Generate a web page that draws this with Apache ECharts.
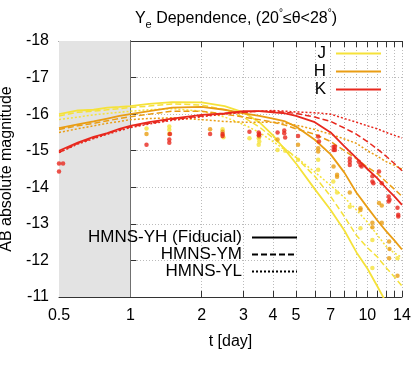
<!DOCTYPE html>
<html>
<head>
<meta charset="utf-8">
<script src="https://cdn.jsdelivr.net/npm/echarts@6/dist/echarts.min.js"></script>
<style>
  html, body { margin: 0; padding: 0; background: #fff; }
  #chart { width: 416px; height: 365px; }
</style>
</head>
<body>
<div id="chart"></div>
<script>
// time grid (days) shared by all model curves
const tGrid = [0.5, 0.6, 0.7, 0.8, 0.9, 1, 1.2, 1.5, 2, 2.5, 3, 3.5, 4, 4.5, 5, 6, 7, 8, 9, 10, 11, 12, 13, 14]

// J band
const jYH = [-16.00, -16.10, -16.12, -16.18, -16.20, -16.22, -16.28, -16.33, -16.32, -16.22, -16.05, -15.78, -15.42, -15.02, -14.65, -13.95, -13.38, -12.82, -12.22, -11.78, -11.30, -10.85, -10.50, -10.20]
const jYM = [-15.95, -16.05, -16.08, -16.12, -16.15, -16.18, -16.22, -16.28, -16.25, -16.12, -15.92, -15.65, -15.35, -15.05, -14.82, -14.30, -13.75, -13.20, -12.68, -12.35, -12.10, -11.80, -11.55, -11.30]
const jYL = [-15.85, -15.92, -15.98, -16.02, -16.05, -16.08, -16.12, -16.15, -16.08, -15.92, -15.72, -15.50, -15.25, -15.02, -14.82, -14.42, -14.05, -13.72, -13.38, -13.05, -12.70, -12.38, -12.20, -12.08]
// H band
const hYH = [-15.62, -15.72, -15.80, -15.88, -15.95, -16.00, -16.08, -16.18, -16.20, -16.12, -16.02, -15.95, -15.88, -15.80, -15.66, -15.30, -14.90, -14.40, -13.85, -13.45, -13.10, -12.80, -12.55, -12.30]
const hYM = [-15.58, -15.68, -15.75, -15.82, -15.88, -15.93, -16.00, -16.08, -16.08, -16.00, -15.92, -15.85, -15.78, -15.70, -15.60, -15.45, -15.25, -15.00, -14.78, -14.55, -14.38, -14.15, -13.95, -13.75]
const hYL = [-15.50, -15.60, -15.68, -15.75, -15.80, -15.85, -15.88, -15.90, -15.85, -15.80, -15.78, -15.78, -15.78, -15.75, -15.70, -15.58, -15.45, -15.32, -15.20, -15.00, -14.85, -14.70, -14.60, -14.50]
// K band
const kYH = [-15.00, -15.22, -15.38, -15.48, -15.60, -15.68, -15.78, -15.88, -15.98, -16.02, -16.08, -16.08, -16.05, -16.02, -15.95, -15.78, -15.50, -15.12, -14.80, -14.50, -14.25, -13.98, -13.75, -13.52]
const kYM = [-14.95, -15.20, -15.35, -15.47, -15.58, -15.65, -15.75, -15.85, -15.95, -16.02, -16.05, -16.08, -16.08, -16.05, -16.02, -15.92, -15.80, -15.62, -15.45, -15.25, -15.05, -14.85, -14.65, -14.45]
const kYL = [-14.95, -15.18, -15.33, -15.45, -15.55, -15.63, -15.73, -15.83, -15.93, -16.00, -16.05, -16.08, -16.10, -16.08, -16.06, -16.04, -16.00, -15.88, -15.78, -15.68, -15.60, -15.50, -15.42, -15.35]

// observed points [day, mag]
const jObs = [[1.17, -15.61], [1.46, -15.66], [1.46, -15.57], [2.45, -15.59], [2.45, -15.43], [2.47, -15.37], [3.18, -15.34], [3.48, -15.34], [3.5, -15.25], [3.48, -15.16], [4.18, -15.02], [4.5, -15.0], [5.1, -14.75], [6.2, -14.75], [6.2, -14.48], [7.18, -14.16], [7.45, -13.86], [8.43, -13.47], [9.35, -12.88], [10.5, -12.56], [10.5, -11.79], [13.4, -12.06]]
const hObs = [[1.17, -15.46], [1.46, -15.46], [2.17, -15.59], [2.45, -15.52], [3.5, -15.39], [4.18, -15.31], [5.1, -15.16], [6.2, -15.07], [6.2, -14.98], [7.2, -14.57], [7.45, -14.34], [7.45, -14.29], [8.43, -13.86], [9.35, -13.43], [9.35, -13.38], [10.5, -13.03], [10.5, -12.91], [11.5, -13.03], [11.2, -13.57], [11.5, -13.5], [12.35, -12.52], [12.4, -12.31], [12.35, -12.06], [13.4, -11.58]]
const kObs = [[0.5, -14.65], [0.52, -14.65], [0.5, -14.43], [1.17, -15.16], [1.46, -15.31], [1.46, -15.22], [1.47, -15.46], [2.17, -15.46], [2.45, -15.46], [2.45, -15.4], [3.18, -15.52], [3.48, -15.5], [3.5, -15.45], [3.48, -15.42], [4.18, -15.5], [4.46, -15.55], [4.46, -15.48], [4.5, -15.36], [5.1, -15.4], [6.2, -15.39], [6.25, -15.25], [7.2, -15.11], [7.3, -15.11], [7.2, -15.02], [7.3, -15.02], [8.43, -14.79], [8.43, -14.7], [8.43, -14.61], [9.2, -14.7], [9.35, -14.61], [9.45, -14.57], [10.5, -14.3], [10.5, -14.16], [10.6, -14.11], [11.2, -14.43], [11.5, -14.11], [12.3, -13.75], [12.4, -13.66], [12.3, -13.61], [13.4, -13.44], [13.5, -13.25], [13.5, -13.2]]

const tickDays = [0.5, 1, 2, 3, 4, 5, 6, 7, 8, 9, 10, 11, 12, 13, 14]
const labelDays = [0.5, 1, 2, 3, 4, 5, 7, 10, 14]
const earlyBand = [0.5, 1]

const colJ = '#f5e23a'
const colH = '#e99d14'
const colK = '#e8281e'
const font = 'Liberation Sans'

const lg = Math.log10
const curvePts = vals => tGrid.map((t, i) => [lg(t), vals[i]])
const obsPts = arr => arr.map(p => [lg(p[0]), p[1]])

const dashed = [6, 3]
const dotted = [2, 2]

const curve = (name, vals, color, type, width) => ({
  name, type: 'line', data: curvePts(vals), symbol: 'none', z: 3,
  lineStyle: { color, width, type }, itemStyle: { color }
})
const dots = (arr, color) => ({
  type: 'scatter', data: obsPts(arr), symbolSize: 4.5, z: 4,
  itemStyle: { color }
})
const styleKey = (name, type) => ({
  name, type: 'line', data: [], symbol: 'none',
  lineStyle: { color: '#000', width: 1.6, type }, itemStyle: { color: '#000' }
})

const chart = echarts.init(document.getElementById('chart'))

const xBase = {
  type: 'value', min: lg(0.5), max: lg(14),
  axisLine: { lineStyle: { color: '#333' } },
  axisTick: { inside: true, length: 6, customValues: tickDays.map(lg), lineStyle: { color: '#333' } }
}
const yBase = {
  type: 'value', inverse: true, min: -18, max: -11, interval: 1,
  axisLine: { show: true, lineStyle: { color: '#333' } },
  axisTick: { show: true, inside: true, length: 6, lineStyle: { color: '#333' } }
}
const legendBase = {
  orient: 'vertical', padding: 0, align: 'right', itemWidth: 45, itemHeight: 10,
  selectedMode: false, itemStyle: { opacity: 0 },
  textStyle: { fontSize: 17, lineHeight: 17, color: '#000', padding: [0, 5, 0, 0] }
}

chart.setOption({
  animation: false,
  textStyle: { fontFamily: font },
  title: {
    text: '{n|Y}{s|e}{n| Dependence, (20}{d|°}{n|≤θ<28}{d|°}{n|)}',
    left: 231, top: 3, textAlign: 'center',
    textStyle: {
      fontWeight: 'normal',
      rich: {
        n: { fontSize: 16, color: '#000', fontFamily: font, fontWeight: 'normal', lineHeight: 22 },
        s: { fontSize: 11, color: '#000', fontFamily: font, fontWeight: 'normal', lineHeight: 13, verticalAlign: 'bottom' },
        d: { fontSize: 10, color: '#000', fontFamily: font, fontWeight: 'normal', lineHeight: 12, verticalAlign: 'top' }
      }
    }
  },
  grid: { left: 59, right: 14, top: 41, bottom: 68, outerBoundsMode: 'none' },
  legend: [
    Object.assign({}, legendBase, { data: ['J', 'H', 'K'], right: 34, top: 45, itemGap: 1 }),
    Object.assign({}, legendBase, {
      data: ['HMNS-YH (Fiducial)', 'HMNS-YM', 'HMNS-YL'], right: 118, top: 229, itemGap: 0
    })
  ],
  xAxis: [
    Object.assign({}, xBase, {
      position: 'bottom',
      axisLabel: {
        customValues: labelDays.map(lg), margin: 11, fontSize: 16, color: '#000',
        formatter: v => String(+Math.pow(10, v).toFixed(1))
      },
      splitLine: { show: true, lineStyle: { color: '#bbb', type: [1, 2] } },
      name: 't [day]', nameLocation: 'middle', nameGap: 37,
      nameTextStyle: { fontSize: 16, color: '#000' }
    }),
    Object.assign({}, xBase, {
      position: 'top', axisLabel: { show: false }, splitLine: { show: false }
    })
  ],
  yAxis: [
    Object.assign({}, yBase, {
      position: 'left',
      axisLabel: { margin: 10, fontSize: 16, color: '#000' },
      splitLine: { show: true, lineStyle: { color: '#bbb', type: [1, 2] } },
      name: 'AB absolute magnitude', nameLocation: 'middle', nameGap: 32,
      nameTextStyle: { fontSize: 16, color: '#000' }
    }),
    Object.assign({}, yBase, {
      position: 'right', axisLabel: { show: false }, splitLine: { show: false }
    })
  ],
  series: [
    {
      type: 'line', data: [], z: 1, silent: true,
      markArea: {
        silent: true, itemStyle: { color: '#e3e3e3' },
        data: [[{ xAxis: lg(earlyBand[0]) }, { xAxis: lg(earlyBand[1]) }]]
      }
    },
    curve('J', jYH, colJ, 'solid', 1.8),
    curve('J-YM', jYM, colJ, dashed, 1.5),
    curve('J-YL', jYL, colJ, dotted, 1.5),
    curve('H', hYH, colH, 'solid', 1.8),
    curve('H-YM', hYM, colH, dashed, 1.5),
    curve('H-YL', hYL, colH, dotted, 1.5),
    curve('K', kYH, colK, 'solid', 1.8),
    curve('K-YM', kYM, colK, dashed, 1.5),
    curve('K-YL', kYL, colK, dotted, 1.5),
    dots(jObs, colJ),
    dots(hObs, colH),
    dots(kObs, colK),
    styleKey('HMNS-YH (Fiducial)', 'solid'),
    styleKey('HMNS-YM', dashed),
    styleKey('HMNS-YL', dotted)
  ]
})
</script>
</body>
</html>
